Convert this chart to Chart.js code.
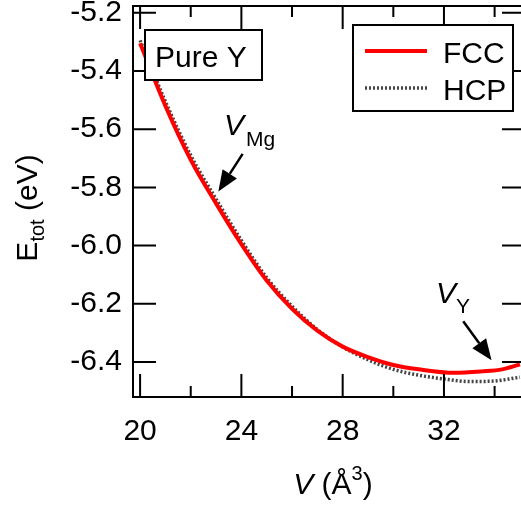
<!DOCTYPE html>
<html>
<head>
<meta charset="utf-8">
<script src="https://cdn.jsdelivr.net/npm/chart.js@4.4.1/dist/chart.umd.min.js"></script>
<style>
    html, body { margin: 0; padding: 0; background: #fff; overflow: hidden; width: 521px; height: 507px; }
    #cadre { position: relative; width: 526px; height: 507px; }
</style>
</head>
<body>
<div id="cadre"><canvas id="energieGraph"></canvas></div>
<script>
// Valeurs (V en Å^3, E en eV)
const volumesFcc = [20, 21, 22, 23, 24, 25, 26, 27, 28, 29, 30, 31, 32.4, 33.5, 34.3, 35];
const energieFcc = [-5.305, -5.52, -5.705, -5.855, -5.995, -6.12, -6.217, -6.292, -6.347, -6.383, -6.41, -6.425, -6.437, -6.432, -6.425, -6.408];
const volumesHcp = [20, 21, 22, 23, 24, 25, 26, 27, 28, 29, 30, 31, 32, 33, 34, 35];
const energieHcp = [-5.295, -5.505, -5.69, -5.84, -5.982, -6.11, -6.208, -6.288, -6.348, -6.392, -6.425, -6.445, -6.458, -6.467, -6.465, -6.452];

const xTicksMajeurs = [20, 24, 28, 32];
const xTicksMineurs = [22, 26, 30, 34];
const yTicks = [-5.2, -5.4, -5.6, -5.8, -6.0, -6.2, -6.4];

const POLICE = "'Liberation Sans', Arial, sans-serif";

// flèche pleine entre deux points (en coordonnées de données)
function fleche(ctx, x, y, v1, e1, v2, e2) {
    const x1 = x.getPixelForValue(v1), y1 = y.getPixelForValue(e1);
    const x2 = x.getPixelForValue(v2), y2 = y.getPixelForValue(e2);
    const ang = Math.atan2(y2 - y1, x2 - x1);
    const L = 21, W = 8.5;
    const bx = x2 - L * Math.cos(ang), by = y2 - L * Math.sin(ang);
    ctx.lineWidth = 2.5;
    ctx.beginPath();
    ctx.moveTo(x1, y1);
    ctx.lineTo(bx, by);
    ctx.stroke();
    ctx.beginPath();
    ctx.moveTo(x2, y2);
    ctx.lineTo(bx + W * Math.sin(ang), by - W * Math.cos(ang));
    ctx.lineTo(bx - W * Math.sin(ang), by + W * Math.cos(ang));
    ctx.closePath();
    ctx.fill();
}

const habillage = {
    id: 'habillage',
    afterDatasetsDraw(chart) {
        const { ctx, chartArea: a, scales: { x, y } } = chart;
        ctx.save();
        ctx.strokeStyle = '#000';
        ctx.fillStyle = '#000';
        ctx.lineWidth = 2;
        ctx.setLineDash([]);

        // cadre + graduations vers l'intérieur
        ctx.beginPath();
        ctx.moveTo(a.right, a.top);
        ctx.lineTo(a.left, a.top);
        ctx.lineTo(a.left, a.bottom);
        ctx.lineTo(a.right, a.bottom);
        ctx.lineTo(a.right, a.top);
        xTicksMajeurs.forEach(v => {
            const px = x.getPixelForValue(v);
            ctx.moveTo(px, a.bottom); ctx.lineTo(px, a.bottom - 23);
            ctx.moveTo(px, a.top); ctx.lineTo(px, a.top + 23);
        });
        xTicksMineurs.forEach(v => {
            const px = x.getPixelForValue(v);
            ctx.moveTo(px, a.bottom); ctx.lineTo(px, a.bottom - 11);
            ctx.moveTo(px, a.top); ctx.lineTo(px, a.top + 11);
        });
        yTicks.forEach(v => {
            const py = y.getPixelForValue(v);
            ctx.moveTo(a.left, py); ctx.lineTo(a.left + 23, py);
            ctx.moveTo(a.right, py); ctx.lineTo(a.right - 23, py);
        });
        ctx.stroke();

        // titre axe x : V (Å³)
        ctx.textBaseline = 'alphabetic';
        ctx.textAlign = 'left';
        const morceauxX = [
            { t: 'V', f: 'italic 30px ' + POLICE, dy: 0 },
            { t: ' (Å', f: '30px ' + POLICE, dy: 0 },
            { t: '3', f: '20px ' + POLICE, dy: -14 },
            { t: ')', f: '30px ' + POLICE, dy: 0 }
        ];
        let largeur = 0;
        morceauxX.forEach(m => { ctx.font = m.f; m.w = ctx.measureText(m.t).width; largeur += m.w; });
        let cx = 333 - largeur / 2;
        morceauxX.forEach(m => { ctx.font = m.f; ctx.fillText(m.t, cx, 494 + m.dy); cx += m.w; });

        // titre axe y : E_tot (eV)
        ctx.save();
        ctx.translate(37, 208);
        ctx.rotate(-Math.PI / 2);
        const morceauxY = [
            { t: 'E', f: '30px ' + POLICE, dy: 0 },
            { t: 'tot', f: '20px ' + POLICE, dy: 7 },
            { t: ' (eV)', f: '30px ' + POLICE, dy: 0 }
        ];
        largeur = 0;
        morceauxY.forEach(m => { ctx.font = m.f; m.w = ctx.measureText(m.t).width; largeur += m.w; });
        cx = -largeur / 2;
        morceauxY.forEach(m => { ctx.font = m.f; ctx.fillText(m.t, cx, m.dy); cx += m.w; });
        ctx.restore();

        // encadré "Pure Y"
        ctx.fillStyle = '#fff';
        ctx.fillRect(145, 30, 117, 50);
        ctx.strokeRect(145, 30, 117, 50);
        ctx.fillStyle = '#000';
        ctx.font = '30px ' + POLICE;
        ctx.fillText('Pure Y', 155, 67);

        // légende
        ctx.fillStyle = '#fff';
        ctx.fillRect(353, 25, 160, 86);
        ctx.strokeRect(353, 25, 160, 86);
        const ds = chart.data.datasets;
        [51, 88].forEach((ly, i) => {
            ctx.save();
            ctx.strokeStyle = ds[i].borderColor;
            ctx.lineWidth = ds[i].borderWidth;
            ctx.setLineDash(ds[i].borderDash || []);
            ctx.beginPath();
            ctx.moveTo(365, ly);
            ctx.lineTo(427, ly);
            ctx.stroke();
            ctx.restore();
            ctx.fillStyle = '#000';
            ctx.font = '30px ' + POLICE;
            ctx.fillText(ds[i].label, 443, ly + 12);
        });

        // annotations V_Mg et V_Y
        ctx.fillStyle = '#000';
        ctx.font = 'italic 30px ' + POLICE;
        ctx.fillText('V', 224, 135);
        ctx.fillText('V', 436, 303);
        ctx.font = '21px ' + POLICE;
        ctx.fillText('Mg', 246, 146);
        ctx.fillText('Y', 456, 313);
        fleche(ctx, x, y, 24.05, -5.685, 23.09, -5.814);
        fleche(ctx, x, y, 32.76, -6.26, 33.88, -6.394);

        ctx.restore();
    }
};

const ctx = document.getElementById('energieGraph').getContext('2d');
const graphique = new Chart(ctx, {
    type: 'scatter',
    data: {
        datasets: [{
            label: 'FCC',
            data: volumesFcc.map((v, i) => ({ x: v, y: energieFcc[i] })),
            showLine: true,
            borderColor: '#ff0000',
            borderWidth: 4,
            pointRadius: 0,
            cubicInterpolationMode: 'monotone'
        }, {
            label: 'HCP',
            data: volumesHcp.map((v, i) => ({ x: v, y: energieHcp[i] })),
            showLine: true,
            borderColor: '#444444',
            borderWidth: 3.5,
            borderDash: [2, 2],
            pointRadius: 0,
            cubicInterpolationMode: 'monotone'
        }]
    },
    options: {
        responsive: true,
        maintainAspectRatio: false,
        animation: false,
        layout: { padding: { left: 0, top: 6, right: 1, bottom: 0 } },
        plugins: {
            legend: { display: false },
            tooltip: { enabled: false }
        },
        scales: {
            x: {
                type: 'linear',
                min: 19.72,
                max: 35.2,
                grid: { display: false, drawTicks: false },
                border: { display: false },
                afterBuildTicks: s => { s.ticks = xTicksMajeurs.map(v => ({ value: v })); },
                afterFit: s => { s.height = 110; s.paddingLeft = 0; s.paddingRight = 0; },
                ticks: {
                    font: { size: 30, family: POLICE },
                    color: '#000',
                    padding: 17,
                    maxRotation: 0,
                    autoSkip: false,
                    callback: v => String(v)
                }
            },
            y: {
                type: 'linear',
                min: -6.52,
                max: -5.177,
                grid: { display: false, drawTicks: false },
                border: { display: false },
                afterBuildTicks: s => { s.ticks = yTicks.map(v => ({ value: v })); },
                afterFit: s => { s.width = 133; s.paddingTop = 0; s.paddingBottom = 0; },
                ticks: {
                    font: { size: 30, family: POLICE },
                    color: '#000',
                    padding: 11,
                    autoSkip: false,
                    callback: v => v.toFixed(1)
                }
            }
        }
    },
    plugins: [habillage]
});
</script>
</body>
</html>
